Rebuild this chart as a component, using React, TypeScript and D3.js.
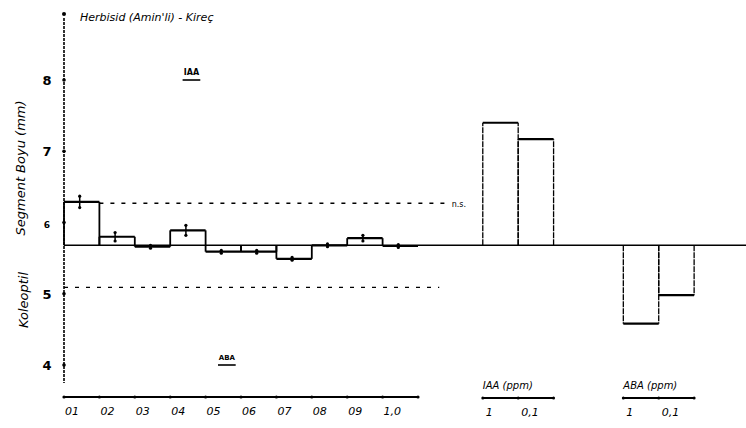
import React from "react";
import * as d3 from "d3";

// ---- data ----
const herbCategories = ["01", "02", "03", "04", "05", "06", "07", "08", "09", "1,0"];
const herbValues = [6.29, 5.8, 5.66, 5.89, 5.59, 5.59, 5.49, 5.68, 5.78, 5.67];
const herbErrors = [0.08, 0.06, 0.02, 0.07, 0.02, 0.02, 0.02, 0.02, 0.04, 0.02];
const iaaCategories = ["1", "0,1"];
const iaaValues = [7.4, 7.17];
const abaCategories = ["1", "0,1"];
const abaValues = [4.58, 4.98];
const controlValue = 5.68;
const upperRefLine = 6.27;
const lowerRefLine = 5.09;
const yTicks = [4, 5, 6, 7, 8];
const groupOffsets = [0, 11.83, 15.8];

const W = 746;
const H = 428;
const FONT = "'DejaVu Sans', sans-serif";

export default function App() {
  const y = d3.scaleLinear().domain([4, 8]).range([365, 80]);
  const x = d3.scaleLinear().domain([0, 1]).range([64, 99.4]);
  const y0 = y(controlValue);

  const barPath = (i0: number, v: number) => {
    const xa = x(i0);
    const xb = x(i0 + 1);
    return { xa, xb, yv: y(v) };
  };

  const herbBars = herbValues.map((v, i) => ({ ...barPath(groupOffsets[0] + i, v), v, i }));
  const iaaBars = iaaValues.map((v, i) => ({ ...barPath(groupOffsets[1] + i, v), v, i }));
  const abaBars = abaValues.map((v, i) => ({ ...barPath(groupOffsets[2] + i, v), v, i }));

  return (
    <svg width={W} height={H} style={{ position: "absolute", left: 0, top: 0, background: "#fff" }}>
      <rect width={W} height={H} fill="#fff" />
      {/* title */}
      <circle cx={x(0)} cy={14} r={2} fill="#000" />
      <text x={80} y={21} fontFamily={FONT} fontStyle="italic" fontSize={11} fill="#000">
        Herbisid (Amin'li) - Kireç
      </text>
      {/* y axis */}
      <line x1={x(0)} x2={x(0)} y1={18} y2={383} stroke="#000" strokeWidth={1.6} strokeDasharray="3,1" />
      {yTicks.map((t) => (
        <g key={t}>
          <circle cx={x(0)} cy={y(t)} r={1.8} fill="#000" />
          <text x={47} y={y(t) + 5} textAnchor="middle" fontFamily={FONT} fontSize={t === 6 ? 9 : 13} fontWeight="bold" fill="#000">
            {t}
          </text>
        </g>
      ))}
      <text transform={`translate(25,168) rotate(-90)`} textAnchor="middle" fontFamily={FONT} fontStyle="italic" fontSize={13} fill="#000">
        Segment Boyu (mm)
      </text>
      <text transform={`translate(28,300) rotate(-90)`} textAnchor="middle" fontFamily={FONT} fontStyle="italic" fontSize={13} fill="#000">
        Koleoptil
      </text>
      {/* reference markers */}
      <text x={x(3.6)} y={y(8) - 5} textAnchor="middle" fontFamily={FONT} fontWeight="bold" fontSize={8} fill="#000">IAA</text>
      <line x1={x(3.35)} x2={x(3.85)} y1={y(8)} y2={y(8)} stroke="#000" strokeWidth={1.6} />
      <text x={x(4.6)} y={y(4) - 5} textAnchor="middle" fontFamily={FONT} fontWeight="bold" fontSize={7} fill="#000">ABA</text>
      <line x1={x(4.35)} x2={x(4.85)} y1={y(4)} y2={y(4)} stroke="#000" strokeWidth={1.6} />
      {/* reference dashed lines */}
      <line x1={x(1)} x2={x(10.8)} y1={y(upperRefLine)} y2={y(upperRefLine)} stroke="#000" strokeWidth={1.3} strokeDasharray="4,7" />
      <text x={x(10.95)} y={y(upperRefLine) + 4} fontFamily={FONT} fontSize={8} fill="#000">n.s.</text>
      <line x1={x(0)} x2={x(10.6)} y1={y(lowerRefLine)} y2={y(lowerRefLine)} stroke="#000" strokeWidth={1.3} strokeDasharray="4,7" />
      {/* baseline */}
      <line x1={x(0)} x2={W} y1={y0} y2={y0} stroke="#000" strokeWidth={1.4} />
      {/* herbicide bars */}
      {herbBars.map((b) => (
        <g key={"h" + b.i}>
          <line x1={b.xa} x2={b.xb} y1={b.yv} y2={b.yv} stroke="#000" strokeWidth={2.2} />
          <line x1={b.xa} x2={b.xa} y1={y0} y2={b.yv} stroke="#000" strokeWidth={1.8} />
          <line x1={b.xb} x2={b.xb} y1={y0} y2={b.yv} stroke="#000" strokeWidth={1.8} />
          <line
            x1={(b.xa + b.xb) / 2 - 2}
            x2={(b.xa + b.xb) / 2 - 2}
            y1={y(b.v + herbErrors[b.i])}
            y2={y(b.v - herbErrors[b.i])}
            stroke="#000"
            strokeWidth={1.5}
          />
          <circle cx={(b.xa + b.xb) / 2 - 2} cy={y(b.v + herbErrors[b.i])} r={1.6} fill="#000" />
          <circle cx={(b.xa + b.xb) / 2 - 2} cy={y(b.v - herbErrors[b.i])} r={1.6} fill="#000" />
        </g>
      ))}
      {/* IAA & ABA bars */}
      {[...iaaBars, ...abaBars].map((b, k) => (
        <g key={"r" + k}>
          <line x1={b.xa} x2={b.xb} y1={b.yv} y2={b.yv} stroke="#000" strokeWidth={2.2} />
          <line x1={b.xa} x2={b.xa} y1={y0} y2={b.yv} stroke="#000" strokeWidth={1.3} strokeDasharray="6,1" />
          <line x1={b.xb} x2={b.xb} y1={y0} y2={b.yv} stroke="#000" strokeWidth={1.3} strokeDasharray="6,1" />
        </g>
      ))}
      {/* herbicide x axis */}
      <line x1={x(0)} x2={x(10)} y1={397} y2={397} stroke="#000" strokeWidth={2} />
      {herbCategories.map((c, i) => (
        <g key={c}>
          <circle cx={x(i)} cy={397} r={1.6} fill="#000" />
          <text x={x(i) + 1} y={415} fontFamily={FONT} fontStyle="italic" fontSize={11} fill="#000">{c}</text>
        </g>
      ))}
      <circle cx={x(10)} cy={397} r={1.6} fill="#000" />
      {/* IAA axis */}
      {[
        { off: groupOffsets[1], cats: iaaCategories, label: "IAA (ppm)" },
        { off: groupOffsets[2], cats: abaCategories, label: "ABA (ppm)" },
      ].map((g) => (
        <g key={g.label}>
          <text x={x(g.off)} y={389} fontFamily={FONT} fontStyle="italic" fontSize={10} fill="#000">{g.label}</text>
          <line x1={x(g.off)} x2={x(g.off + g.cats.length)} y1={398} y2={398} stroke="#000" strokeWidth={1.8} />
          {g.cats.map((c, i) => (
            <g key={c}>
              <circle cx={x(g.off + i)} cy={398} r={1.5} fill="#000" />
              <text x={x(g.off + i) + 3} y={416} fontFamily={FONT} fontStyle="italic" fontSize={11} fill="#000">{c}</text>
            </g>
          ))}
          <circle cx={x(g.off + g.cats.length)} cy={398} r={1.5} fill="#000" />
        </g>
      ))}
    </svg>
  );
}
